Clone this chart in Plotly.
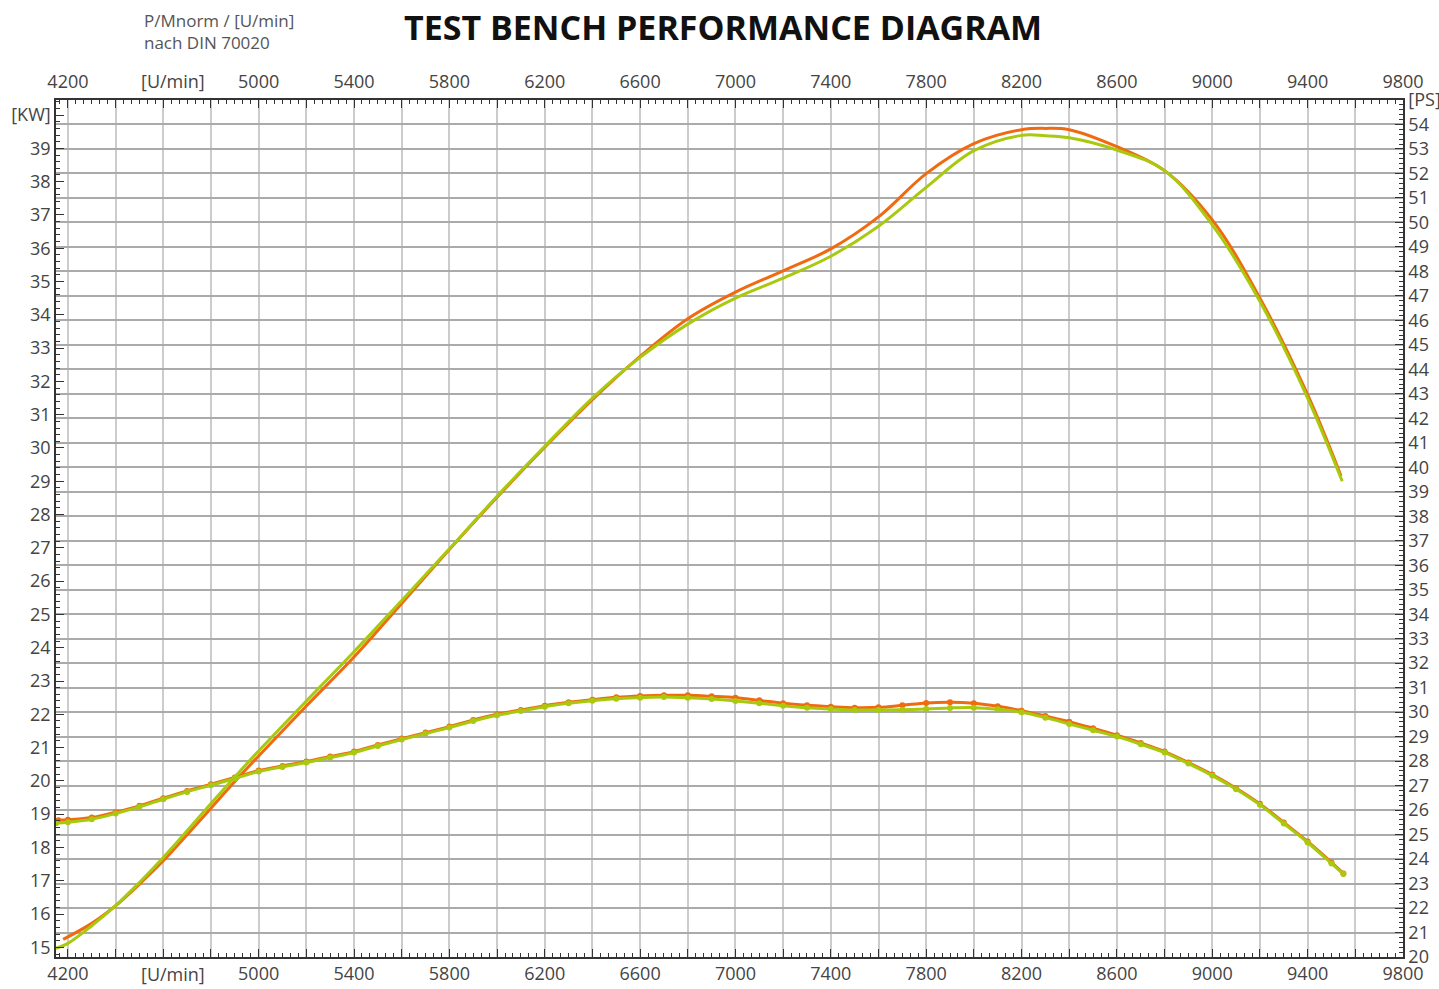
import plotly.graph_objects as go

# ---- data ----
rpm_pow_orange = [4180, 4300, 4400, 4500, 4600, 4700, 4800, 4900, 5000, 5200, 5400, 5600, 5800, 6000,
                  6200, 6400, 6600, 6800, 7000, 7200, 7400, 7600, 7800, 8000, 8200, 8300, 8400, 8600,
                  8800, 9000, 9200, 9400, 9540]
kw_pow_orange = [15.24, 15.72, 16.25, 16.90, 17.60, 18.38, 19.18, 19.98, 20.75, 22.25, 23.72, 25.33, 26.95, 28.52,
                 30.02, 31.45, 32.75, 33.88, 34.68, 35.32, 35.98, 36.94, 38.24, 39.14, 39.56, 39.60, 39.56, 39.05,
                 38.33, 36.85, 34.50, 31.60, 29.16]

rpm_pow_green = [4150, 4200, 4300, 4400, 4500, 4600, 4700, 4800, 4900, 5000, 5200, 5400, 5600, 5800, 6000,
                 6200, 6400, 6600, 6800, 7000, 7200, 7400, 7600, 7800, 8000, 8200, 8300, 8400, 8600,
                 8800, 9000, 9200, 9400, 9545]
kw_pow_green = [14.97, 15.12, 15.65, 16.25, 16.95, 17.70, 18.50, 19.32, 20.12, 20.90, 22.40, 23.88, 25.42, 26.97, 28.55,
                30.05, 31.50, 32.72, 33.72, 34.50, 35.10, 35.76, 36.66, 37.83, 38.93, 39.39, 39.38, 39.32, 38.95,
                38.33, 36.70, 34.40, 31.50, 29.00]

rpm_trq_green = [4150, 4200, 4300, 4400, 4500, 4600, 4700, 4800, 4900, 5000, 5100, 5200, 5300, 5400, 5500,
                 5600, 5700, 5800, 5900, 6000, 6100, 6200, 6300, 6400, 6500, 6600, 6700, 6800, 6900, 7000,
                 7100, 7200, 7300, 7400, 7500, 7600, 7700, 7800, 7900, 8000, 8100, 8200, 8300, 8400, 8500,
                 8600, 8700, 8800, 8900, 9000, 9100, 9200, 9300, 9400, 9500, 9550]
kw_trq_green = [18.73, 18.76, 18.85, 19.02, 19.22, 19.45, 19.67, 19.87, 20.07, 20.28, 20.42, 20.55, 20.70, 20.85, 21.05,
                21.24, 21.42, 21.60, 21.80, 21.97, 22.10, 22.23, 22.33, 22.41, 22.47, 22.50, 22.52, 22.50, 22.46, 22.40,
                22.33, 22.26, 22.20, 22.16, 22.13, 22.13, 22.14, 22.16, 22.19, 22.20, 22.15, 22.06, 21.90, 21.71, 21.52,
                21.33, 21.10, 20.85, 20.52, 20.16, 19.75, 19.28, 18.72, 18.15, 17.52, 17.20]

rpm_trq_orange = [4160, 4200, 4300, 4400, 4500, 4600, 4700, 4800, 4900, 5000, 5100, 5200, 5300, 5400, 5500,
                  5600, 5700, 5800, 5900, 6000, 6100, 6200, 6300, 6400, 6500, 6600, 6700, 6800, 6900, 7000,
                  7100, 7200, 7300, 7400, 7500, 7600, 7700, 7800, 7900, 8000, 8100, 8200, 8300, 8400, 8500,
                  8600, 8700, 8800, 8900, 9000, 9100, 9200, 9300, 9400, 9500, 9550]
kw_trq_orange = [18.82, 18.83, 18.90, 19.06, 19.25, 19.48, 19.70, 19.90, 20.10, 20.31, 20.45, 20.58, 20.73, 20.88, 21.08,
                 21.27, 21.45, 21.63, 21.83, 22.00, 22.13, 22.26, 22.36, 22.44, 22.51, 22.55, 22.57, 22.57, 22.54, 22.50,
                 22.42, 22.33, 22.27, 22.23, 22.20, 22.21, 22.27, 22.34, 22.36, 22.33, 22.24, 22.11, 21.95, 21.78, 21.58,
                 21.37, 21.14, 20.88, 20.55, 20.19, 19.78, 19.31, 18.75, 18.18, 17.55, 17.22]

x_ticks = list(range(4200, 9801, 200))
x_labels = [str(v) if (v - 4200) % 400 == 0 and v != 4600 else "" for v in x_ticks]
kw_ticks = list(range(15, 41))
kw_labels = [str(v) for v in kw_ticks[:-1]] + ["[KW]"]
ps_ticks = list(range(20, 56))
ps_labels = [str(v) for v in ps_ticks[:-1]] + ["[PS]"]

KW_TO_PS = 1.35962
PS_RANGE = [20, 55]
KW_RANGE = [PS_RANGE[0] / KW_TO_PS, PS_RANGE[1] / KW_TO_PS]
X_RANGE = [4150, 9800]

ORANGE = "#F06A10"
GREEN = "#A8C90E"
FONT = "Open Sans"
TICKC = "#444444"

fig = go.Figure()
fig.add_trace(go.Scatter(x=rpm_pow_orange, y=kw_pow_orange, mode="lines",
                         line=dict(color=ORANGE, width=3, shape="spline", smoothing=1.0), hoverinfo="skip"))
fig.add_trace(go.Scatter(x=rpm_trq_orange, y=kw_trq_orange, mode="lines+markers",
                         line=dict(color=ORANGE, width=3, shape="spline"),
                         marker=dict(color=ORANGE, size=6), hoverinfo="skip"))
fig.add_trace(go.Scatter(x=rpm_pow_green, y=kw_pow_green, mode="lines",
                         line=dict(color=GREEN, width=3, shape="spline", smoothing=1.0), hoverinfo="skip"))
fig.add_trace(go.Scatter(x=rpm_trq_green, y=kw_trq_green, mode="lines+markers",
                         line=dict(color=GREEN, width=3, shape="spline"),
                         marker=dict(color=GREEN, size=6), hoverinfo="skip"))

axis_common = dict(showline=True, linecolor="#333333", linewidth=1.5, ticks="inside",
                   ticklen=8, tickwidth=1, tickcolor="#333333", automargin=False,
                   tickfont=dict(family=FONT, size=18, color=TICKC), zeroline=False)

fig.update_layout(
    width=1439, height=989,
    margin=dict(l=56, r=36, t=100, b=32, autoexpand=False),
    paper_bgcolor="white", plot_bgcolor="white",
    showlegend=False,
    xaxis=dict(range=X_RANGE, tickmode="array", tickvals=x_ticks, ticktext=x_labels,
               showgrid=True, gridcolor="#cccccc", gridwidth=2,
               minor=dict(ticks="inside", ticklen=4, dtick=100 / 3, tick0=4200, tickcolor="#333333",
                          showgrid=False),
               **axis_common),
    xaxis2=dict(range=X_RANGE, overlaying="x", side="top", anchor="y", tickmode="array",
                tickvals=x_ticks, ticktext=x_labels, showgrid=False, ticklabelstandoff=3,
                minor=dict(ticks="inside", ticklen=4, dtick=100 / 3, tick0=4200, tickcolor="#333333",
                           showgrid=False),
                **axis_common),
    yaxis=dict(range=KW_RANGE, tickmode="array", tickvals=kw_ticks, ticktext=kw_labels,
               showgrid=False,
               minor=dict(ticks="inside", ticklen=4, dtick=0.2, tick0=15, tickcolor="#333333",
                          showgrid=False),
               **axis_common),
    yaxis2=dict(range=PS_RANGE, overlaying="y", side="right", anchor="x", tickmode="array",
                tickvals=ps_ticks, ticktext=ps_labels,
                showgrid=True, gridcolor="#aaaaaa", gridwidth=1.5,
                minor=dict(ticks="inside", ticklen=4, dtick=0.2, tick0=20, tickcolor="#333333",
                           showgrid=False),
                **axis_common),
)

# invisible trace so the secondary axes are rendered
fig.add_trace(go.Scatter(x=[X_RANGE[0]], y=[PS_RANGE[0]], xaxis="x2", yaxis="y2", mode="markers",
                         marker=dict(opacity=0), hoverinfo="skip"))

fig.add_annotation(text="TEST BENCH PERFORMANCE DIAGRAM", xref="paper", yref="paper",
                   x=(723 - 56) / 1347, y=1 + (100 - 27) / 857, xanchor="center", yanchor="middle",
                   showarrow=False, font=dict(family=FONT, size=34, color="#111111", weight="bold"))
fig.add_annotation(text="P/Mnorm / [U/min]<br>nach DIN 70020", xref="paper", yref="paper",
                   x=(142 - 56) / 1347, y=1 + (100 - 31) / 857, xanchor="left", yanchor="middle",
                   align="left", showarrow=False, font=dict(family=FONT, size=17, color="#555555"))
for yy in [1 + (100 - 81) / 857, -(974 - 957) / 857]:
    fig.add_annotation(text="[U/min]", xref="paper", yref="paper",
                       x=(173 - 56) / 1347, y=yy, xanchor="center", yanchor="middle",
                       showarrow=False, font=dict(family=FONT, size=18, color=TICKC))

fig.write_html("out.html", config={"displayModeBar": False},
               post_script="document.body.style.margin='0px';document.body.style.overflow='hidden';"
                           "window.dispatchEvent(new Event('resize'));")
